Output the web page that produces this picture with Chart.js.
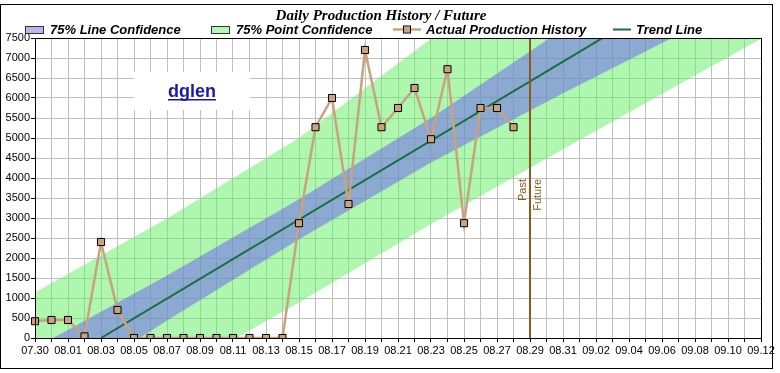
<!DOCTYPE html>
<html>
<head>
<meta charset="utf-8">
<script src="https://cdn.jsdelivr.net/npm/chart.js@4.4.0/dist/chart.umd.min.js"></script>
<style>
  html, body { margin: 0; padding: 0; background: #fff; }
  #wrap { position: relative; width: 780px; height: 373px; }
</style>
</head>
<body>
<div id="wrap"><canvas id="prod" width="780" height="373"></canvas></div>
<script>
// x categories (one per day)
const dates = [
    '07.30', '07.31',
    '08.01', '08.02', '08.03', '08.04', '08.05', '08.06', '08.07', '08.08', '08.09', '08.10',
    '08.11', '08.12', '08.13', '08.14', '08.15', '08.16', '08.17', '08.18', '08.19', '08.20',
    '08.21', '08.22', '08.23', '08.24', '08.25', '08.26', '08.27', '08.28', '08.29', '08.30', '08.31',
    '09.01', '09.02', '09.03', '09.04', '09.05', '09.06', '09.07', '09.08', '09.09', '09.10',
    '09.11', '09.12'
];

// actual production, 07.30 .. 08.28
const historyValues = [
    420, 450, 450, 40, 2400, 700,
    0, 0, 0, 0, 0, 0, 0, 0, 0, 0,
    2870, 5270, 6000, 3350, 7200, 5270, 5750, 6250, 4970, 6720, 2870, 5750, 5750, 5270
];

// trend line end points
const trendDates = ['08.03', '09.12'];
const trendValues = [0, 9870];

// confidence band edges, read at these dates
const bandDates = ['07.30', '08.07', '08.15', '08.23', '08.31', '09.08', '09.12'];
const lineConfUpper = [-250, 1560, 3470, 5500, 7720, 9990, 11130];
const lineConfLower = [-1700, 440, 2470, 4390, 6120, 7790, 8630];
const pointConfUpper = [1140, 2990, 5000, 7480, 10000, 12600, 13900];
const pointConfLower = [-2870, -990, 890, 2850, 4720, 6560, 7480];

const splitDate = '08.29';
const yMax = 7500;
const yStep = 500;

const titleText = 'Daily Production History / Future';
const legendLabels = ['75% Line Confidence', '75% Point Confidence', 'Actual Production History', 'Trend Line'];

const colTan = '#c9a27e';
const colTrend = '#17703a';
const colBrown = '#8b5a1c';

function pts(xs, ys) {
    return xs.map((d, i) => ({ x: d, y: ys[i] }));
}

// титул, легенда, рамки, линия прошлое/будущее
const decor = {
    id: 'decor',
    beforeDatasetsDraw(chart) {
        const ctx = chart.ctx;
        ctx.save();
        ctx.fillStyle = '#fff';
        ctx.fillRect(134, 72, 116, 38);
        ctx.fillStyle = '#1a1aa6';
        ctx.font = 'bold 18px "Liberation Sans"';
        ctx.textAlign = 'center';
        ctx.textBaseline = 'alphabetic';
        ctx.fillText('dglen', 192, 97);
        const w = ctx.measureText('dglen').width;
        ctx.fillRect(192 - w / 2, 99, w, 1.5);
        ctx.restore();
    },
    afterDatasetsDraw(chart) {
        const { ctx, chartArea: a, scales: { x } } = chart;
        const px = x.getPixelForValue(dates.indexOf(splitDate));
        ctx.save();
        ctx.strokeStyle = colBrown;
        ctx.lineWidth = 2;
        ctx.beginPath();
        ctx.moveTo(px, a.top);
        ctx.lineTo(px, a.bottom);
        ctx.stroke();

        ctx.fillStyle = colBrown;
        ctx.font = '11px "Liberation Sans"';
        ctx.translate(px, 179);
        ctx.rotate(-Math.PI / 2);
        ctx.textAlign = 'right';
        ctx.textBaseline = 'bottom';
        ctx.fillText('Past', 0, -2);
        ctx.textBaseline = 'top';
        ctx.fillText('Future', 0, 2);
        ctx.restore();
    },
    afterDraw(chart) {
        const { ctx, chartArea: a } = chart;
        ctx.save();
        // plot border
        ctx.strokeStyle = '#000';
        ctx.lineWidth = 1;
        ctx.strokeRect(a.left + 0.5, a.top + 0.5, a.right - a.left, a.bottom - a.top);
        // outer frame
        ctx.strokeRect(0.5, 4.5, 772, 364);

        // title
        ctx.fillStyle = '#000';
        ctx.font = 'italic bold 15px "Liberation Serif"';
        ctx.textAlign = 'center';
        ctx.textBaseline = 'alphabetic';
        ctx.fillText(titleText, 381, 20);

        // legend
        ctx.font = 'italic bold 13px "Liberation Sans"';
        ctx.textAlign = 'left';
        const ly = 29.5;
        const tx = [50, 236, 426, 636];

        ctx.fillStyle = 'rgb(182,182,242)';
        ctx.fillRect(25, 26, 19, 7);
        ctx.strokeStyle = '#333';
        ctx.strokeRect(25.5, 26.5, 18, 7);

        ctx.fillStyle = 'rgb(178,250,178)';
        ctx.fillRect(211, 26, 19, 7);
        ctx.strokeRect(211.5, 26.5, 18, 7);

        ctx.strokeStyle = colTan;
        ctx.lineWidth = 2.5;
        ctx.beginPath();
        ctx.moveTo(393, ly);
        ctx.lineTo(421, ly);
        ctx.stroke();
        ctx.fillStyle = colTan;
        ctx.fillRect(404, 26.5, 6, 6);
        ctx.strokeStyle = '#000';
        ctx.lineWidth = 1;
        ctx.strokeRect(403.5, 26, 7, 7);

        ctx.strokeStyle = colTrend;
        ctx.lineWidth = 2;
        ctx.beginPath();
        ctx.moveTo(613, ly);
        ctx.lineTo(631, ly);
        ctx.stroke();

        ctx.fillStyle = '#000';
        legendLabels.forEach((t, i) => ctx.fillText(t, tx[i], 34));
        ctx.restore();
    }
};

const ctx = document.getElementById('prod').getContext('2d');

new Chart(ctx, {
    type: 'line',
    data: {
        labels: dates,
        datasets: [
            {
                label: legendLabels[0],
                data: pts(bandDates, lineConfUpper),
                borderWidth: 0,
                pointRadius: 0,
                fill: '+1',
                backgroundColor: 'rgba(104,92,244,0.5)',
                order: 2
            },
            {
                data: pts(bandDates, lineConfLower),
                borderWidth: 0,
                pointRadius: 0,
                fill: false,
                order: 2
            },
            {
                label: legendLabels[1],
                data: pts(bandDates, pointConfUpper),
                borderWidth: 0,
                pointRadius: 0,
                fill: '+1',
                backgroundColor: 'rgba(96,240,96,0.5)',
                order: 3
            },
            {
                data: pts(bandDates, pointConfLower),
                borderWidth: 0,
                pointRadius: 0,
                fill: false,
                order: 3
            },
            {
                label: legendLabels[2],
                data: historyValues,
                borderColor: colTan,
                borderWidth: 2.5,
                pointStyle: 'rect',
                pointRadius: 5,
                pointBackgroundColor: colTan,
                pointBorderColor: '#000',
                pointBorderWidth: 1,
                tension: 0,
                fill: false,
                order: 0
            },
            {
                label: legendLabels[3],
                data: pts(trendDates, trendValues),
                borderColor: colTrend,
                borderWidth: 2,
                pointRadius: 0,
                fill: false,
                order: 1
            }
        ]
    },
    options: {
        responsive: false,
        animation: false,
        devicePixelRatio: 1,
        layout: {
            padding: { left: 0, right: 19, top: 38, bottom: 0 }
        },
        plugins: {
            legend: { display: false },
            tooltip: { enabled: false },
            title: { display: false }
        },
        scales: {
            x: {
                type: 'category',
                grid: {
                    color: '#c0c0c0',
                    tickColor: '#000',
                    tickLength: 4
                },
                border: { color: '#000' },
                ticks: {
                    autoSkip: false,
                    maxRotation: 0,
                    padding: 2,
                    color: '#000',
                    font: { family: '"Liberation Sans"', size: 11 },
                    callback: function(val, i) {
                        return i % 2 === 0 ? this.getLabelForValue(val) : '';
                    }
                },
                afterFit: s => { s.height = 35; }
            },
            y: {
                min: 0,
                max: yMax,
                grid: {
                    color: '#c0c0c0',
                    tickColor: '#000',
                    tickLength: 4
                },
                border: { color: '#000' },
                ticks: {
                    stepSize: yStep,
                    padding: 1,
                    color: '#000',
                    font: { family: '"Liberation Sans"', size: 11 },
                    callback: v => String(v)
                },
                afterFit: s => { s.width = 35; }
            }
        }
    },
    plugins: [decor]
});
</script>
</body>
</html>
